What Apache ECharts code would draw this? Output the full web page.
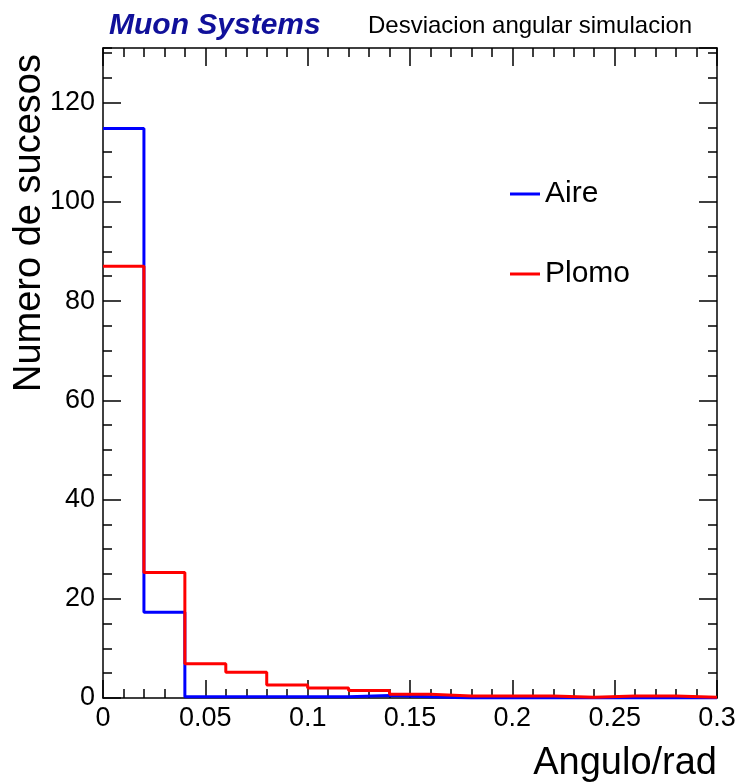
<!DOCTYPE html>
<html>
<head>
<meta charset="utf-8">
<script src="https://cdn.jsdelivr.net/npm/echarts@6/dist/echarts.min.js"></script>
<style>
  html, body { margin: 0; padding: 0; background: #fff; }
  #chart { width: 740px; height: 782px; }
</style>
</head>
<body>
<div id="chart"></div>
<script>
// Histogram bins (lower edges) and contents, bin width 0.02 rad
const binLow = [0, 0.02, 0.04, 0.06, 0.08, 0.10, 0.12, 0.14, 0.16, 0.18, 0.20, 0.22, 0.24, 0.26, 0.28];
const binUpperLimit = 0.3;
const aire  = [114.8, 17.3, 0.25, 0.25, 0.25, 0.25, 0.5, 0.25, 0, 0, 0, 0, 0, 0, 0];
const plomo = [87.0, 25.3, 6.9, 5.2, 2.6, 2.0, 1.5, 0.75, 0.4, 0.4, 0.4, 0.15, 0.4, 0.4, 0.15];
const seriesNames = ['Aire', 'Plomo'];
const xTickLabels = ['0', '0.05', '0.1', '0.15', '0.2', '0.25', '0.3'];

const FONT = '"Liberation Sans", Arial, Helvetica, sans-serif';
const Y_MAX = 131;

// Outline of a histogram as step points: horizontal at each bin's content
function histSteps(values) {
  const pts = values.map((v, i) => [binLow[i], v]);
  pts.push([binUpperLimit, values[values.length - 1]]);
  return pts;
}

function xAxisDef(position, labels) {
  return {
    type: 'value', position: position, min: 0, max: 0.3, interval: 0.05,
    axisLine: { show: true, onZero: false, lineStyle: { color: '#000', width: 1.5 } },
    axisTick: { show: true, inside: true, length: 18, lineStyle: { color: '#000', width: 1.5 } },
    minorTick: { show: true, splitNumber: 5, length: 9, lineStyle: { color: '#000', width: 1.5 } },
    splitLine: { show: false },
    axisLabel: labels ? {
      show: true, margin: 7, color: '#000', fontFamily: FONT, fontSize: 27,
      formatter: v => xTickLabels[Math.round(v / 0.05)]
    } : { show: false }
  };
}

function yAxisDef(position, major, labels) {
  return {
    type: 'value', position: position, min: 0, max: Y_MAX, interval: major ? 20 : 5,
    axisLine: { show: major, onZero: false, lineStyle: { color: '#000', width: 1.5 } },
    axisTick: { show: true, inside: true, length: major ? 18 : 9, lineStyle: { color: '#000', width: 1.5 } },
    splitLine: { show: false },
    axisLabel: labels ? {
      show: true, margin: 8, color: '#000', fontFamily: FONT, fontSize: 27,
      showMaxLabel: false
    } : { show: false }
  };
}

const chart = echarts.init(document.getElementById('chart'), null, { renderer: 'canvas' });
chart.setOption({
  animation: false,
  backgroundColor: '#fff',
  grid: { left: 103, right: 23, top: 48, bottom: 84 },
  xAxis: [xAxisDef('bottom', true), xAxisDef('top', false)],
  yAxis: [
    yAxisDef('left', true, true),
    yAxisDef('left', false, false),
    yAxisDef('right', true, false),
    yAxisDef('right', false, false)
  ],
  legend: {
    data: seriesNames,
    orient: 'vertical',
    left: 505, top: 174,
    icon: 'rect', itemWidth: 30, itemHeight: 3, itemGap: 50,
    textStyle: { fontFamily: FONT, fontSize: 30, color: '#000', lineHeight: 30 }
  },
  series: [
    {
      name: seriesNames[0], type: 'line', step: 'end', showSymbol: false,
      data: histSteps(aire), color: '#0000ff',
      lineStyle: { color: '#0000ff', width: 3 }
    },
    {
      name: seriesNames[1], type: 'line', step: 'end', showSymbol: false,
      data: histSteps(plomo), color: '#ff0000',
      lineStyle: { color: '#ff0000', width: 3 }
    }
  ],
  graphic: [
    {
      type: 'text', left: 109, top: 11,
      style: { text: 'Muon Systems', fill: '#10109a', font: 'italic bold 30px ' + FONT }
    },
    {
      type: 'text', left: 368, top: 14,
      style: { text: 'Desviacion angular simulacion', fill: '#000', font: '24px ' + FONT }
    },
    {
      type: 'text', x: 30, y: 392, rotation: Math.PI / 2,
      style: { text: 'Numero de sucesos', fill: '#000', font: '38px ' + FONT, textAlign: 'left', textVerticalAlign: 'middle' }
    },
    {
      type: 'text', x: 717, y: 764,
      style: { text: 'Angulo/rad', fill: '#000', font: '38px ' + FONT, textAlign: 'right', textVerticalAlign: 'middle' }
    }
  ]
});
</script>
</body>
</html>
